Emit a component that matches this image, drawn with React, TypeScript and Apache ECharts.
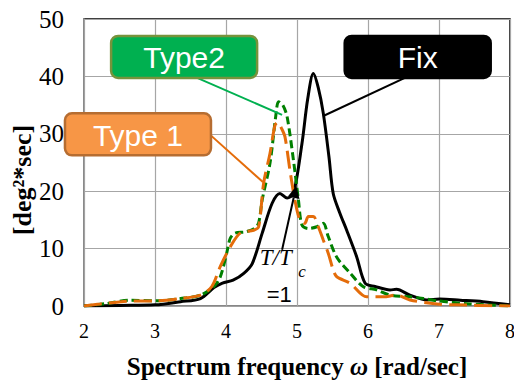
import React, { useEffect, useRef } from "react";
import * as echarts from "echarts";

// ---- data ----
const fixFreq = [2.0, 2.5, 3.0, 3.36, 3.64, 3.83, 3.95, 4.1, 4.25, 4.37, 4.51, 4.65, 4.76, 4.86, 4.95, 5.07, 5.15, 5.23, 5.3, 5.37, 5.45, 5.51, 5.6, 5.7, 5.84, 5.96, 6.1, 6.31, 6.4, 6.59, 6.83, 7.01, 7.3, 7.62, 8.0];
const fixPower = [0, 0.1, 0.2, 0.75, 1.3, 3.2, 4.0, 4.5, 5.7, 7.4, 12.7, 17.9, 19.6, 18.8, 19.6, 28.3, 36, 40.5, 38, 33.6, 26, 19.6, 16.3, 13.2, 8.6, 3.95, 3.4, 2.8, 2.9, 1.9, 1.05, 1.2, 1.0, 0.75, 0.2];

const type2Freq = [2.0, 2.3, 2.65, 3.03, 3.36, 3.64, 3.83, 3.92, 4.01, 4.06, 4.13, 4.27, 4.4, 4.46, 4.51, 4.62, 4.7, 4.74, 4.8, 4.86, 4.95, 5.02, 5.07, 5.16, 5.28, 5.37, 5.44, 5.56, 5.75, 5.93, 6.12, 6.31, 6.59, 6.78, 6.98, 7.44, 8.0];
const type2Power = [0, 0.4, 1.0, 0.9, 1.3, 1.9, 3.4, 5.1, 9.2, 11.8, 12.7, 12.9, 13.5, 14.5, 18.5, 24.9, 33, 35.6, 35, 33.0, 25.4, 18.5, 14.1, 13.5, 13.8, 14.4, 12.1, 8.5, 5.7, 3.4, 2.8, 1.9, 1.6, 1.3, 0.9, 0.35, 0];

const type1Freq = [2.0, 2.23, 2.7, 3.03, 3.36, 3.64, 3.8, 3.92, 4.06, 4.2, 4.39, 4.46, 4.53, 4.62, 4.69, 4.73, 4.78, 4.83, 4.9, 4.97, 5.04, 5.11, 5.16, 5.23, 5.3, 5.37, 5.44, 5.51, 5.56, 5.75, 5.98, 6.22, 6.4, 6.59, 6.97, 7.25, 8.0];
const type1Power = [0, 0.35, 0.87, 0.9, 1.3, 1.9, 3.4, 6.9, 10.3, 12.7, 13.2, 13.8, 21.4, 26.6, 31.5, 32, 31, 29.5, 23.7, 18.5, 15.0, 14.4, 15.6, 15.6, 13.8, 11.5, 9.2, 6.3, 5.1, 3.95, 1.6, 1.6, 1.9, 1.05, 0.35, 0.2, 0];

const xMin = 2, xMax = 8, xStep = 1;
const yMin = 0, yMax = 50, yStep = 10;

const labelNames = ["Type2", "Type 1", "Fix"];
// label box centres (data coords) and leader targets (data coords)
const labelCenterX = [3.41, 2.76, 6.7];
const labelCenterY = [43.4, 29.9, 43.4];
const leaderFromX = [3.4, 3.77, 6.7];
const leaderFromY = [40.8, 29.9, 40.8];
const leaderToX = [4.79, 4.52, 5.37];
const leaderToY = [33.3, 21.6, 33.1];

const SERIF = "Liberation Serif";
const SANS = "Liberation Sans";

export default function App() {
  const ref = useRef<HTMLDivElement>(null);
  useEffect(() => {
    document.body.style.margin = "0";
    const chart = echarts.init(ref.current!, null, { renderer: "svg" });
    const zip = (a: number[], b: number[]) => a.map((x, i) => [x, b[i]]);
    chart.setOption({
      animation: false,
      textStyle: { fontFamily: SERIF },
      grid: {
        left: 84, right: 4, top: 19, bottom: 74,
        outerBoundsMode: "none",
        containLabel: false,
        show: true, borderColor: "#000", borderWidth: 1.5,
      },
      xAxis: {
        type: "value", min: xMin, max: xMax, interval: xStep,
        axisLine: { show: true, lineStyle: { color: "#a0a0a0", width: 1.5 } },
        axisTick: { show: false },
        splitLine: { show: true, lineStyle: { color: "#a6a6a6", width: 1.2 } },
        axisLabel: {
          color: "#000", fontFamily: SERIF, fontSize: 20, margin: 15,
          formatter: (v: number) => `{s|${v}}`,
          rich: { s: { fontFamily: SERIF, fontSize: 20, color: "#000" } },
        },
        name: "{b|Spectrum frequency }{i|ω}{b| [rad/sec]}",
        nameLocation: "middle",
        nameGap: 48,
        nameTextStyle: {
          rich: {
            b: { fontFamily: SERIF, fontWeight: "bold", fontSize: 25, color: "#000" },
            i: { fontFamily: SERIF, fontWeight: "bold", fontStyle: "italic", fontSize: 25, color: "#000" },
          },
        },
      },
      yAxis: {
        type: "value", min: yMin, max: yMax, interval: yStep,
        axisLine: { show: true, lineStyle: { color: "#a0a0a0", width: 1.5 } },
        axisTick: { show: false },
        splitLine: { show: true, lineStyle: { color: "#a6a6a6", width: 1.2 } },
        axisLabel: {
          color: "#000", fontFamily: SERIF, fontSize: 25, margin: 20,
          formatter: (v: number) => `{s|${v}}`,
          rich: { s: { fontFamily: SERIF, fontSize: 25, color: "#000" } },
        },
      },
      series: [
        {
          name: "Fix", type: "line", data: zip(fixFreq, fixPower), showSymbol: false,
          smooth: 0.3, lineStyle: { color: "#000", width: 3 }, z: 2,
        },
        {
          name: "Type2", type: "line", data: zip(type2Freq, type2Power), showSymbol: false,
          smooth: 0.3, lineStyle: { color: "#008000", width: 3, type: [8, 4] }, z: 3,
        },
        {
          name: "Type 1", type: "line", data: zip(type1Freq, type1Power), showSymbol: false,
          smooth: 0.3, lineStyle: { color: "#e46c0a", width: 3, type: [18, 7] }, z: 4,
        },
      ],
    });

    const px = (x: number, y: number) => chart.convertToPixel({ gridIndex: 0 }, [x, y]) as number[];
    const boxFill = ["#00b050", "#f79646", "#000000"];
    const boxStroke = ["#77933c", "#b66d31", "#000000"];
    const leaderColor = ["#00b050", "#e46c0a", "#000000"];
    const boxW = 146, boxH = 42;
    const graphics: any[] = [];
    labelNames.forEach((name, i) => {
      const a = px(leaderFromX[i], leaderFromY[i]);
      const b = px(leaderToX[i], leaderToY[i]);
      graphics.push({
        type: "line", z: 100,
        shape: { x1: a[0], y1: a[1], x2: b[0], y2: b[1] },
        style: { stroke: leaderColor[i], lineWidth: 2 },
      });
    });
    labelNames.forEach((name, i) => {
      const c = px(labelCenterX[i], labelCenterY[i]);
      graphics.push({
        type: "rect", z: 101,
        shape: { x: c[0] - boxW / 2, y: c[1] - boxH / 2, width: boxW, height: boxH, r: 7 },
        style: { fill: boxFill[i], stroke: boxStroke[i], lineWidth: 2.5 },
      });
      graphics.push({
        type: "text", z: 102, x: c[0], y: c[1] + 1,
        style: { text: name, fill: "#fff", font: `30px ${SANS}`, align: "center", verticalAlign: "middle" },
      });
    });
    // T/Tc = 1 arrow
    const p0 = px(4.79, 9.8);
    const p1 = px(4.99, 20.9);
    const dx = p1[0] - p0[0], dy = p1[1] - p0[1];
    const len = Math.hypot(dx, dy);
    const ux = dx / len, uy = dy / len;
    const headL = 12, headW = 6;
    const base = [p1[0] - ux * headL, p1[1] - uy * headL];
    graphics.push({
      type: "line", z: 100,
      shape: { x1: p0[0], y1: p0[1], x2: base[0], y2: base[1] },
      style: { stroke: "#000", lineWidth: 2 },
    });
    graphics.push({
      type: "polygon", z: 100,
      shape: {
        points: [
          [p1[0], p1[1]],
          [base[0] - uy * headW, base[1] + ux * headW],
          [base[0] + uy * headW, base[1] - ux * headW],
        ],
      },
      style: { fill: "#000" },
    });
    const t = px(4.7, 8.4);
    graphics.push({
      type: "text", z: 100, x: t[0], y: t[1],
      style: { text: "T/T", fill: "#000", font: `italic 23px ${SERIF}`, align: "center", verticalAlign: "middle" },
    });
    const tc = px(5.07, 6.0);
    graphics.push({
      type: "text", z: 100, x: tc[0], y: tc[1],
      style: { text: "c", fill: "#000", font: `italic 17px ${SERIF}`, align: "center", verticalAlign: "middle" },
    });
    const eq = px(4.75, 2.0);
    graphics.push({
      type: "text", z: 100, x: eq[0], y: eq[1],
      style: { text: "=1", fill: "#000", font: `22px ${SANS}`, align: "center", verticalAlign: "middle" },
    });
    // y axis name
    graphics.push({
      type: "text", z: 100, x: 22, y: 180, rotation: Math.PI / 2,
      style: {
        text: "[deg²*sec]", fill: "#000", font: `bold 26px ${SERIF}`,
        align: "center", verticalAlign: "middle",
      },
    });
    chart.setOption({ graphic: graphics });
    return () => chart.dispose();
  }, []);
  return <div ref={ref} style={{ width: 514, height: 380 }} />;
}
